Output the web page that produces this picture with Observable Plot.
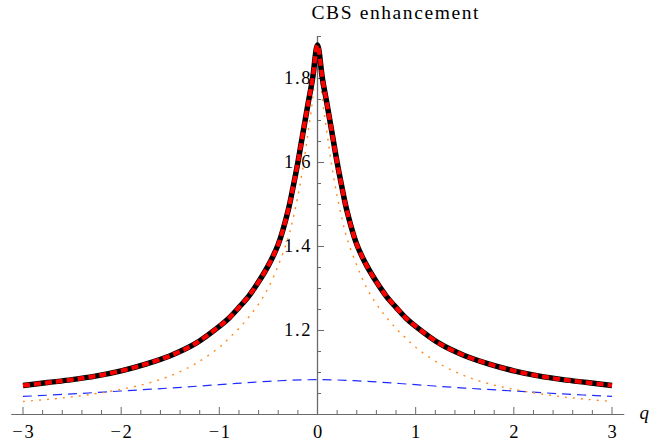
<!DOCTYPE html>
<html>
<head>
<meta charset="utf-8">
<script src="https://cdn.jsdelivr.net/npm/d3@7"></script>
<script src="https://cdn.jsdelivr.net/npm/@observablehq/plot@0.6"></script>
<style>
  html, body { margin: 0; padding: 0; background: #fff; }
  #chart svg text { font-family: "Liberation Serif", "Times New Roman", serif; letter-spacing: 1.6px; }
</style>
</head>
<body>
<div id="chart"></div>
<script>
// ---- data ----
const q = [-3, -2.75, -2.5, -2.25, -2, -1.75, -1.5, -1.25, -1, -0.9, -0.8, -0.7, -0.6, -0.5, -0.4, -0.3, -0.25, -0.2, -0.15, -0.1, -0.05,
  0, 0.05, 0.1, 0.15, 0.2, 0.25, 0.3, 0.4, 0.5, 0.6, 0.7, 0.8, 0.9, 1, 1.25, 1.5, 1.75, 2, 2.25, 2.5, 2.75, 3];
const totalCBS = [1.069, 1.076, 1.083, 1.092, 1.104, 1.120, 1.140, 1.168, 1.210, 1.230, 1.255, 1.282, 1.316, 1.355, 1.405, 1.485, 1.540, 1.600, 1.668, 1.735, 1.800,
  1.880, 1.800, 1.735, 1.668, 1.600, 1.540, 1.485, 1.405, 1.355, 1.316, 1.282, 1.255, 1.230, 1.210, 1.168, 1.140, 1.120, 1.104, 1.092, 1.083, 1.076, 1.069];
const orangeCBS = [1.031, 1.036, 1.042, 1.050, 1.060, 1.073, 1.092, 1.120, 1.160, 1.182, 1.205, 1.232, 1.263, 1.302, 1.355, 1.420, 1.465, 1.520, 1.585, 1.665, 1.750,
  1.875, 1.750, 1.665, 1.585, 1.520, 1.465, 1.420, 1.355, 1.302, 1.263, 1.232, 1.205, 1.182, 1.160, 1.120, 1.092, 1.073, 1.060, 1.050, 1.042, 1.036, 1.031];
const qBlue = [-3, -2.5, -2, -1.5, -1, -0.5, 0, 0.5, 1, 1.5, 2, 2.5, 3];
const blueCBS = [1.043, 1.049, 1.056, 1.063, 1.071, 1.079, 1.083, 1.079, 1.071, 1.063, 1.056, 1.049, 1.043];

const xMajor = [-3, -2, -1, 0, 1, 2, 3];
const yMajor = [1.2, 1.4, 1.6, 1.8];
const titleText = "CBS enhancement";
const xLabel = "q";

// ---- layout ----
const W = 651, H = 444;
const mL = 22.5, mR = 39.5, mT = 36, mB = 30;
const pxPerX = (W - mL - mR) / 6;
const pxPerY = (H - mT - mB) / 0.9;

const xMinor = d3.range(-3, 3.0001, 0.2).map(v => +v.toFixed(2)).filter(v => !xMajor.some(m => Math.abs(m - v) < 1e-6));
const yMinor = d3.range(1.05, 1.9001, 0.05).map(v => +v.toFixed(2)).filter(v => !yMajor.some(m => Math.abs(m - v) < 1e-6));

const rows = q.map((d, i) => ({q: d, total: totalCBS[i], orange: orangeCBS[i]}));
const blueRows = qBlue.map((d, i) => ({q: d, v: blueCBS[i]}));

const axisColor = "#6a6a6a";
const font = "Liberation Serif";

const chart = Plot.plot({
  width: W,
  height: H,
  marginLeft: mL,
  marginRight: mR,
  marginTop: mT,
  marginBottom: mB,
  style: {fontFamily: font, fontSize: "18px", background: "white", color: "black", overflow: "visible"},
  x: {domain: [-3, 3], axis: null},
  y: {domain: [1, 1.9], axis: null},
  marks: [
    // axes lines
    Plot.ruleY([1], {x1: -3.115, x2: 3.13, stroke: axisColor, strokeWidth: 1.1}),
    Plot.ruleX([0], {y1: 1, y2: 1.9, stroke: axisColor, strokeWidth: 1.3}),
    // x ticks (pointing up)
    Plot.ruleX(xMajor, {y1: 1, y2: 1 + 7 / pxPerY, stroke: axisColor, strokeWidth: 1}),
    Plot.ruleX(xMinor, {y1: 1, y2: 1 + 4 / pxPerY, stroke: axisColor, strokeWidth: 1}),
    // y ticks (pointing right)
    Plot.ruleY(yMajor, {x1: 0, x2: 7 / pxPerX, stroke: axisColor, strokeWidth: 1}),
    Plot.ruleY(yMinor, {x1: 0, x2: 4 / pxPerX, stroke: axisColor, strokeWidth: 1}),
    // tick labels
    Plot.text(xMajor, {x: d => d, y: 1, text: d => (d < 0 ? "\u2212" + (-d) : String(d)), dx: 0.8, dy: 18, fontSize: 18.5, fontFamily: font, fill: "black"}),
    Plot.text(yMajor, {x: 0, y: d => d, text: d => d.toFixed(1), textAnchor: "end", dx: -5.5, fontSize: 18.5, fontFamily: font, fill: "black"}),
    // curves
    Plot.line(blueRows, {x: "q", y: "v", stroke: "#1f2cff", strokeWidth: 1.2, strokeDasharray: "9,6", strokeLinecap: "butt", curve: "catmull-rom"}),
    Plot.line(rows, {x: "q", y: "orange", stroke: "#ff8a1e", strokeWidth: 1.4, strokeDasharray: "2,6", strokeLinecap: "butt", curve: "catmull-rom"}),
    Plot.line(rows, {x: "q", y: "total", stroke: "black", strokeWidth: 5.5, strokeLinecap: "butt", curve: "catmull-rom"}),
    Plot.line(rows, {x: "q", y: "total", stroke: "#ff0000", strokeWidth: 4.2, strokeDasharray: "7,4", strokeLinecap: "butt", curve: "catmull-rom"}),
    // labels
    Plot.text([titleText], {x: 0, y: 1.9, dx: -6, dy: -24, textAnchor: "start", fontSize: 19.5, fontFamily: font, fill: "black"}),
    Plot.text([xLabel], {x: 3, y: 1, dx: 27.5, dy: -2, textAnchor: "start", fontSize: 19, fontFamily: font, fontStyle: "italic", fill: "black"})
  ]
});
document.getElementById("chart").appendChild(chart);
</script>
</body>
</html>
